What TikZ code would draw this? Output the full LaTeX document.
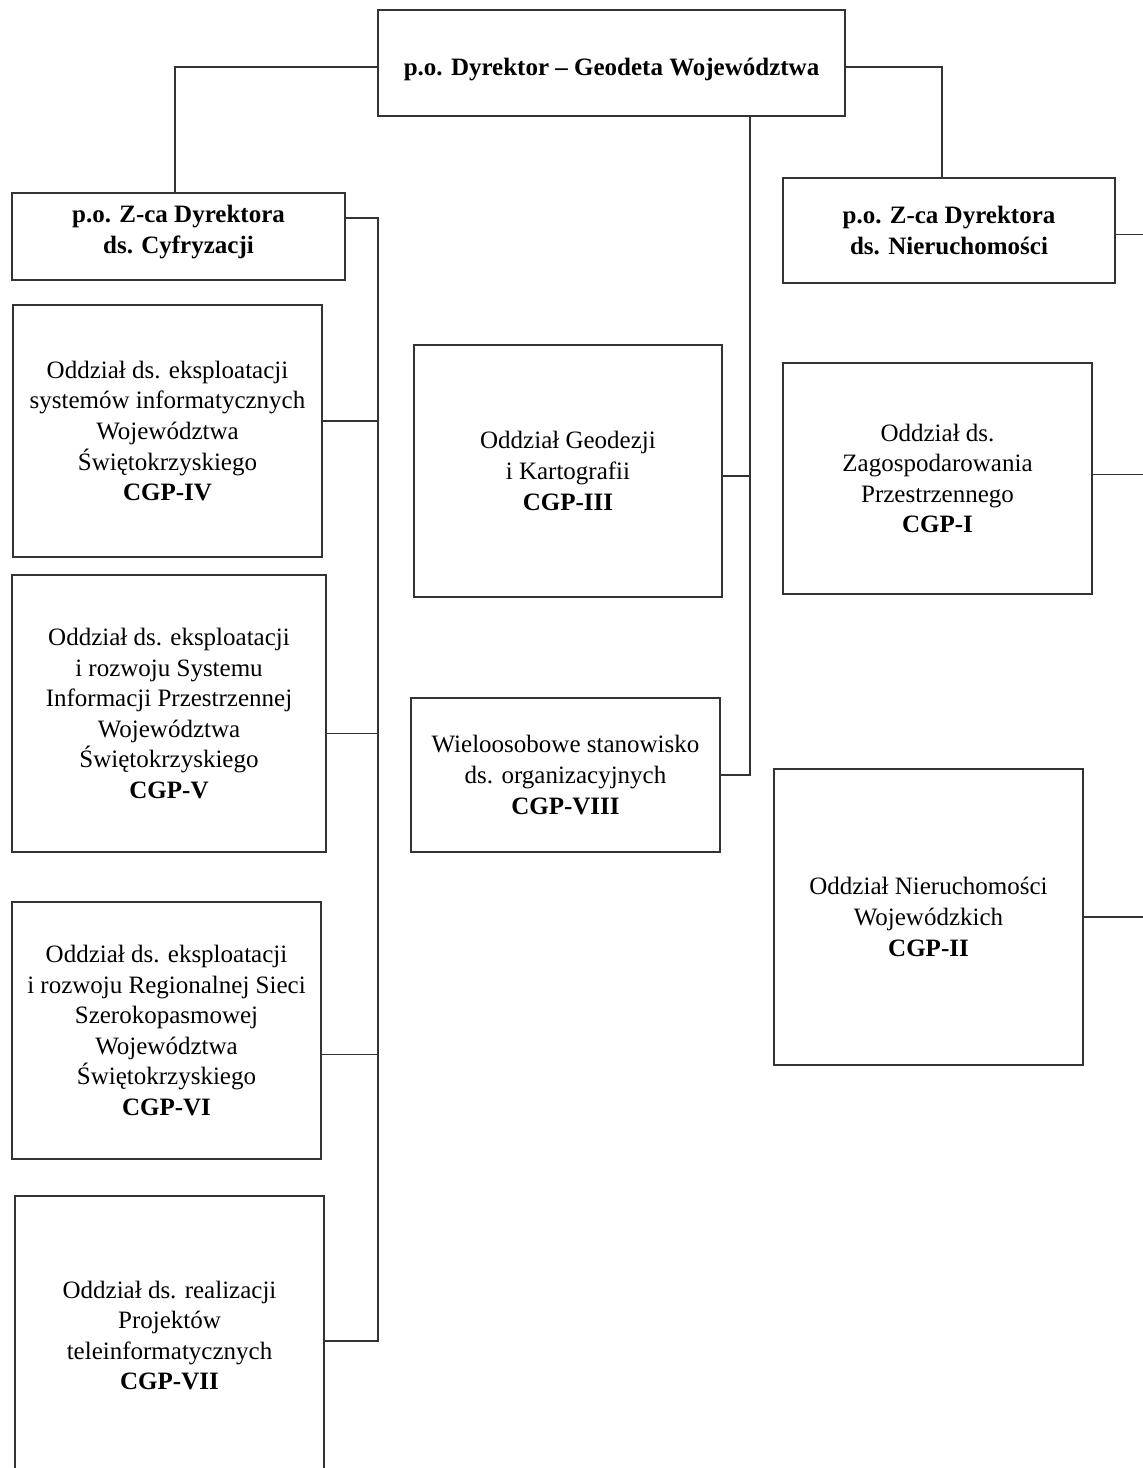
\documentclass[tikz,border=0pt]{standalone}
\usepackage{fontspec}
\setmainfont{Liberation Serif}
\usetikzlibrary{positioning}

\begin{document}
\begin{tikzpicture}[x=1pt,y=-1pt,line width=1.2pt,draw=black!80,
  unit node/.style={rectangle,draw,line width=1.6pt,align=center,inner sep=0pt,
    font=\fontsize{25}{30.6}\selectfont},
  head node/.style={unit node,font=\fontsize{25}{31}\selectfont\bfseries}]
  \useasboundingbox (0,0) rectangle (1143,1468);
  \clip (0,0) rectangle (1143,1468);

  \node[head node,minimum width=467pt,minimum height=106pt,text height=25pt,text depth=0pt] (dyr) at (611.5,63) {p.o. Dyrektor -- Geodeta Województwa};
  \node[head node,minimum width=333pt,minimum height=87pt,text height=39pt,text depth=6pt] (zcyf) at (178.5,236.5) {p.o. Z-ca Dyrektora\\ds. Cyfryzacji};
  \node[head node,minimum width=332pt,minimum height=105pt] (znier) at (949,230.5) {p.o. Z-ca Dyrektora\\ds. Nieruchomości};

  \node[unit node,minimum width=309pt,minimum height=252pt] (o4) at (167.5,431) {Oddział ds. eksploatacji\\systemów informatycznych\\Województwa\\Świętokrzyskiego\\\textbf{CGP-IV}};
  \node[unit node,minimum width=314pt,minimum height=277pt] (o5) at (169,713.5) {Oddział ds. eksploatacji\\i rozwoju Systemu\\Informacji Przestrzennej\\Województwa\\Świętokrzyskiego\\\textbf{CGP-V}};
  \node[unit node,minimum width=309pt,minimum height=257pt] (o6) at (166.5,1030.5) {Oddział ds. eksploatacji\\i rozwoju Regionalnej Sieci\\Szerokopasmowej\\Województwa\\Świętokrzyskiego\\\textbf{CGP-VI}};
  \node[unit node,minimum width=309pt,minimum height=279pt] (o7) at (169.5,1335.5) {Oddział ds. realizacji\\Projektów\\teleinformatycznych\\\textbf{CGP-VII}};

  \node[unit node,minimum width=308pt,minimum height=252pt] (o3) at (568,471) {Oddział Geodezji\\i Kartografii\\\textbf{CGP-III}};
  \node[unit node,minimum width=309pt,minimum height=154pt] (o8) at (565.5,775) {Wieloosobowe stanowisko\\ds. organizacyjnych\\\textbf{CGP-VIII}};

  \node[unit node,minimum width=309pt,minimum height=231pt] (o1) at (937.5,478.5) {Oddział ds.\\Zagospodarowania\\Przestrzennego\\\textbf{CGP-I}};
  \node[unit node,minimum width=309pt,minimum height=296pt] (o2) at (928.5,917) {Oddział Nieruchomości\\Wojewódzkich\\\textbf{CGP-II}};

  \coordinate (busL) at (378,218);
  \coordinate (busC) at (750,0);
  \coordinate (edgeR) at (1143,0);

  \draw ([yshift=-4pt]dyr.west) -| ([xshift=-3.5pt]zcyf.north);
  \draw ([yshift=-4pt]dyr.east) -| ([xshift=-7pt]znier.north);
  \draw (dyr.south -| busC) -- (busC |- o8.east) -- (o8.east);
  \draw ([yshift=-5pt]o3.east) -- ([yshift=-5pt]o3.east -| busC);

  \draw (zcyf.east |- busL) -- (busL) |- ([yshift=-5.5pt]o7.east);
  \draw ([yshift=10pt]o4.east) -- ([yshift=10pt]o4.east -| busL);
  \draw ([yshift=-20pt]o5.east) -- ([yshift=-20pt]o5.east -| busL);
  \draw ([yshift=-24pt]o6.east) -- ([yshift=-24pt]o6.east -| busL);

  \draw ([yshift=-4pt]znier.east) -- ([yshift=-4pt]znier.east -| edgeR);
  \draw ([yshift=4pt]o1.east) -- ([yshift=4pt]o1.east -| edgeR);
  \draw (o2.east) -- (o2.east -| edgeR);
\end{tikzpicture}
\end{document}
